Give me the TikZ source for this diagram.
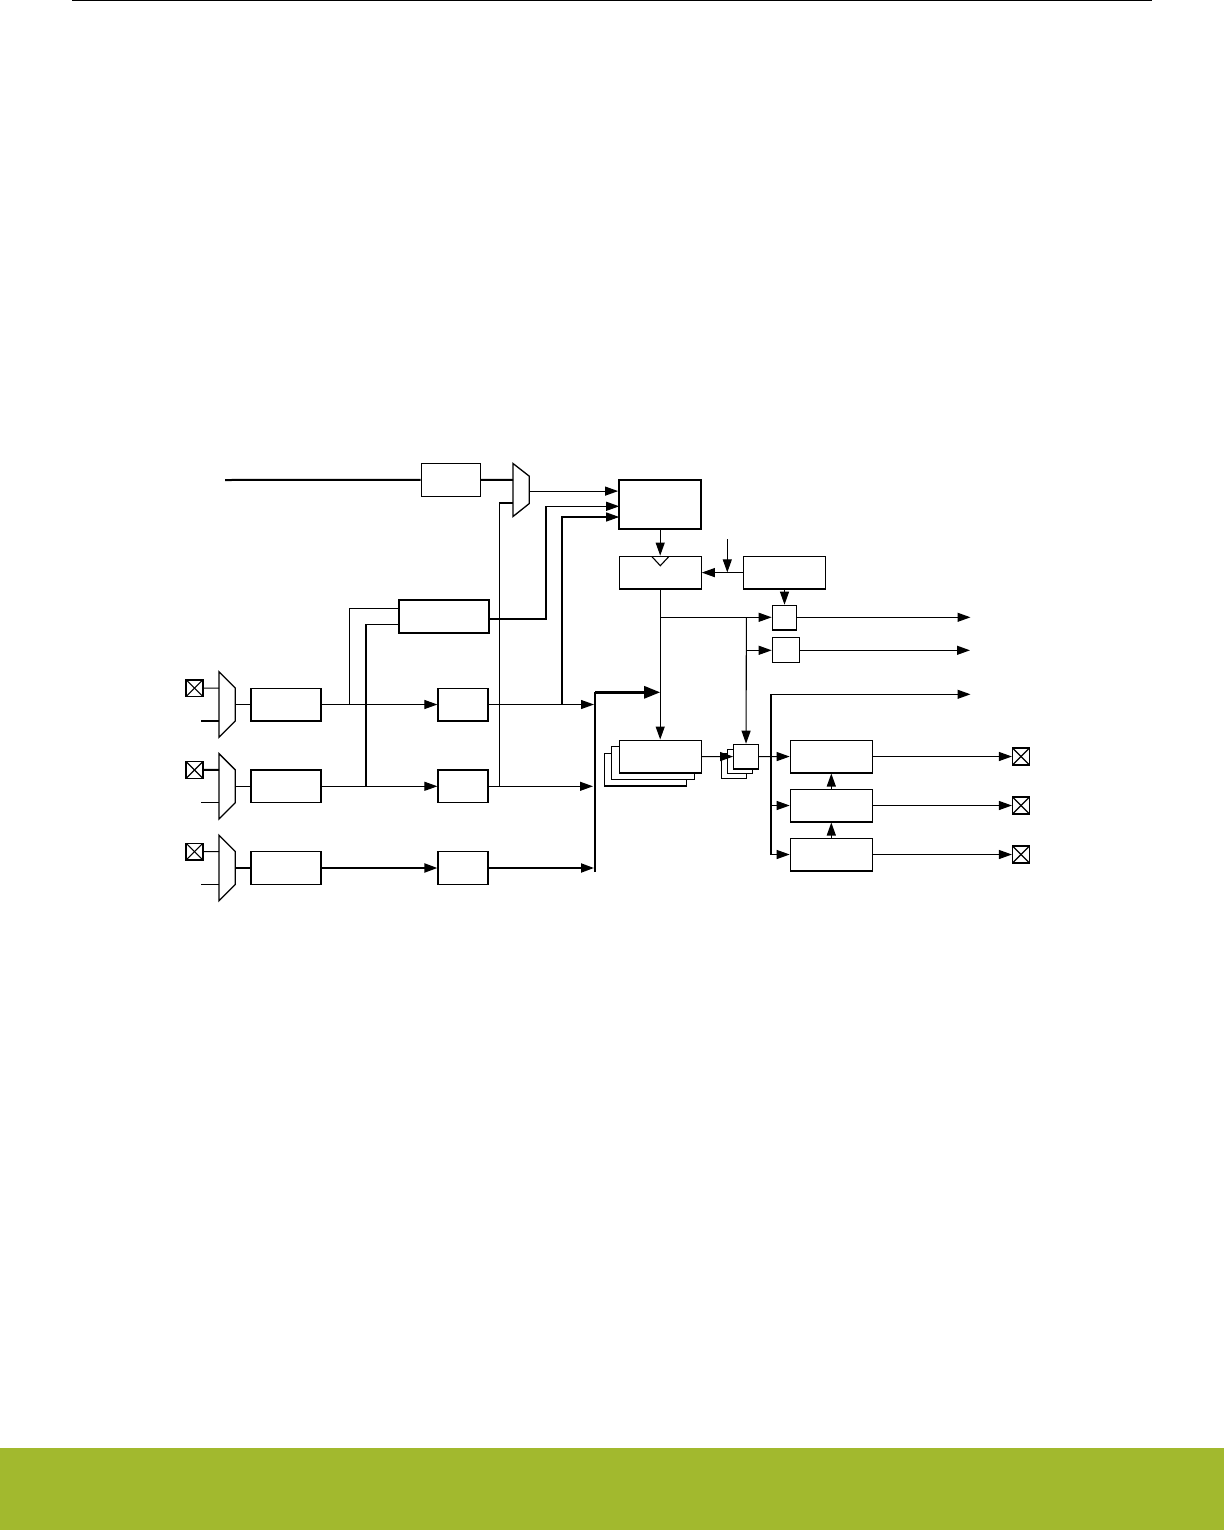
\documentclass[tikz,border=0pt]{standalone}
\usetikzlibrary{arrows.meta}
\definecolor{bandgreen}{HTML}{A2B92E}
\tikzset{
    wire/.style={line width=.55bp},
    bus/.style={line width=1bp},
    block/.style={draw,fill=white,line width=.6bp,inner sep=0pt,minimum width=#1},
    block/.default=41bp,
    heavyblock/.style={block=#1,line width=1.1bp},
    pad/.style={draw,fill=white,line width=.7bp,inner sep=0pt,minimum size=8.4bp,
        path picture={
            \draw[wire] (path picture bounding box.north west) -- (path picture bounding box.south east);
            \draw[wire] (path picture bounding box.south west) -- (path picture bounding box.north east);
        }},
    inmux/.pic={
        % Input selector
        \draw[line width=.65bp,fill=white] (0,-32.7) -- (16.3,-16.4) -- (16.3,16.4) -- (0,32.7) -- cycle;
        \coordinate (-a) at (0,-16.4);
        \coordinate (-b) at (0,16.4);
        \coordinate (-out) at (16.3,0);
    },
    selmux/.pic={
        \draw[line width=.65bp,fill=white] (0,-26.5) -- (16.3,-13.8) -- (16.3,13.5) -- (0,26.5) -- cycle;
        \coordinate (-a) at (0,-10.2);
        \coordinate (-b) at (0,13);
        \coordinate (-out) at (16.3,1.1);
    }
}
\begin{document}
\begin{tikzpicture}[x=.5bp,y=-.5bp,>={Triangle[length=6.5bp,width=4.5bp]}]
    \useasboundingbox (0,0) rectangle (1224,1530);
    \fill[bandgreen] (0,1448) rectangle (1224,1530);
    \coordinate (rulel) at (72,.5);
    \coordinate (ruler) at (1152,.5);
    \draw[line width=.6bp] (rulel) -- (ruler);

    % Input channels
    \foreach \n/\y in {a/704.5,b/786.3,c/868}{
        \pic (mux\n) at (219,\y) {inmux};
        \node[block=35bp,minimum height=16.4bp] (filt\n) at (286,\y) {};
        \node[block=25bp,minimum height=16.4bp] (cap\n) at (463,\y) {};
        \node[pad] (in\n) at (194.5,\y-16.3) {};
        \coordinate (alt\n) at (201,\y+16.4);
    }
    \draw[wire] (ina) -- (muxa-a);
    \draw[bus] (alta) -- (muxa-b);
    \draw[bus] (inb) -- (muxb-a);
    \draw[wire] (altb) -- (muxb-b);
    \draw[wire] (inc) -- (muxc-a);
    \draw[wire] (altc) -- (muxc-b);
    \draw[wire] (muxa-out) -- (filta);
    \draw[wire] (muxb-out) -- (filtb);
    \draw[bus] (muxc-out) -- (filtc);
    \draw[wire,->] (filta) -- (capa);
    \draw[wire,->] (filtb) -- (capb);
    \draw[bus,->] (filtc) -- (capc);

    % Upper blocks
    \coordinate (ext) at (225,480);
    \node[block=29.5bp,minimum height=16.5bp] (sync) at (450.8,479.8) {};
    \pic (sel) at (513,490) {selmux};
    \node[heavyblock=45bp,minimum height=16.4bp] (edge) at (444,616.3) {};
    \node[heavyblock=41bp,minimum height=24.5bp] (trig) at (660.2,504.5) {};
    \node[block,minimum height=16.4bp] (count) at (660.2,572.6) {};
    \coordinate (notchl) at (651.7,556.4);
    \coordinate (notchm) at (660.3,565.7);
    \coordinate (notchr) at (669,556.4);
    \draw[wire] (notchl) -- (notchm) -- (notchr);
    \node[block,minimum height=16.4bp] (presc) at (784.5,572.6) {};
    \coordinate (clk) at (727.3,539.3);
    \coordinate (clkin) at (727.3,572.4);
    \node[block=12.2bp,minimum height=12.3bp] (cmpa) at (784.5,617.6) {};
    \node[block=13.7bp,minimum height=12.3bp] (cmpb) at (786,650) {};

    \draw[bus] (ext) -- (sync);
    \draw[bus] (sync) -- (sel-a);
    \draw[wire,->] (sel-out) -- (trig.west |- sel-out);
    \draw[->,wire] (trig) -- (count);
    \draw[wire,->] (presc) -- (count);
    \draw[wire,->] (clk) -- (clkin);
    \draw[wire,->] (presc) -- (cmpa);

    % Edge detector and trigger lines
    \coordinate (e1) at (349.3,704.5);
    \coordinate (e2) at (365.7,786.3);
    \coordinate (edgeup) at (399,608.3);
    \coordinate (edgelo) at (399,624.3);
    \draw[wire] (e1) |- (edgeup);
    \draw[bus] (e2) -- (365.7,624.3);
    \draw[wire] (365.7,624.3) -- (edgelo);
    \coordinate (edgeout) at (489,619);
    \coordinate (trigb) at (619.2,506.3);
    \coordinate (trigc) at (619.2,517);
    \draw[bus] (edgeout) -| (545.7,506.3);
    \draw[wire,->] (545.7,506.3) -- (trigb);
    \coordinate (tapa) at (562,704.5);
    \draw[bus] (tapa) |- (580,517);
    \draw[wire,->] (580,517) -- (trigc);
    \coordinate (tapb) at (499.7,786.3);
    \draw[wire] (tapb) |- (sel-b);

    % Capture bus
    \coordinate (bustop) at (595,692.3);
    \coordinate (busbot) at (595,872);
    \coordinate (busend) at (660.2,692.3);
    \draw[bus] (busbot) -- (bustop);
    \draw[line width=1.4bp,-{Triangle[length=8bp,width=6bp]}] (bustop) -- (busend);
    \draw[wire,->] (capa.east) -- (594,704.5);
    \draw[wire,->] (capb.east) -- (593,786.3);
    \draw[bus,->] (capc.east) -- (594,868);

    % Compare registers
    \node[block=41.2bp,minimum height=16.4bp] (regc) at (645.5,769.6) {};
    \node[block=41.2bp,minimum height=16.5bp] (regb) at (652.9,762.8) {};
    \node[block,minimum height=16.4bp] (rega) at (660.2,756.5) {};
    \node[block=12.5bp,minimum height=12.5bp] (gatec) at (734.2,766) {};
    \node[block=12.5bp,minimum height=12.2bp] (gateb) at (740.2,761.3) {};
    \node[block=12.3bp,minimum height=12.3bp] (gatea) at (746,756.6) {};
    \coordinate (countout) at (660.2,617.3);
    \coordinate (split) at (746.4,617.3);
    \coordinate (splitb) at (746.4,650.3);
    \draw[wire,->] (count) -- (rega);
    \draw[wire,->] (countout) -- (cmpa.west |- countout);
    \draw[wire,->] (split) -- (gatea);
    \draw[wire,->] (splitb) -- (cmpb.west |- splitb);
    \draw[wire,->] (rega) -- (gatea);

    % Output stage
    \foreach \n/\y in {a/756.5,b/805.5,c/854.5}{
        \node[block,minimum height=16.4bp] (out\n) at (831.3,\y) {};
        \node[pad] (pin\n) at (1021,\y) {};
        \draw[wire,->] (out\n) -- (pin\n);
    }
    \draw[wire,->] (outb) -- (outa);
    \draw[wire,->] (outc) -- (outb);
    \coordinate (pwmtop) at (771,694.3);
    \coordinate (pwmbot) at (771,854.5);
    \coordinate (pwmmid) at (771,805.5);
    \coordinate (irq) at (970.5,694.3);
    \coordinate (outcmpa) at (970.5,617.3);
    \coordinate (outcmpb) at (970,650.3);
    \draw[bus] (pwmtop) -- (pwmbot);
    \draw[wire,->] (pwmtop) -- (irq);
    \draw[wire,->] (gatea) -- (outa);
    \draw[wire,->] (pwmmid) -- (outb);
    \draw[wire,->] (pwmbot) -- (outc);
    \draw[wire,->] (cmpa.east |- outcmpa) -- (outcmpa);
    \draw[wire,->] (cmpb.east |- outcmpb) -- (outcmpb);
\end{tikzpicture}
\end{document}
